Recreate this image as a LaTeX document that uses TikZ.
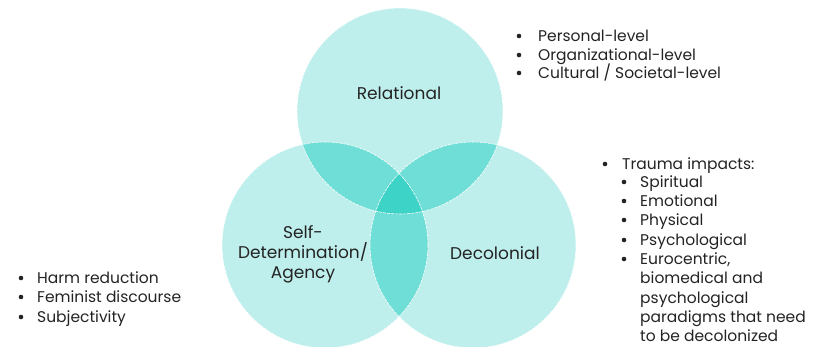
\documentclass[tikz,border=0pt]{standalone}
\usepackage{fontspec}
\setmainfont{Poppins}
\definecolor{vone}{RGB}{191,239,236}
\definecolor{vtwo}{RGB}{110,222,214}
\definecolor{vthree}{RGB}{61,211,199}
\definecolor{ink}{RGB}{35,35,35}
\begin{document}
\begin{tikzpicture}[x=1pt,y=-1pt,
  lbl/.style={text=ink,font=\fontsize{17}{19}\selectfont,align=center,inner sep=0pt},
  itm/.style={text=ink,font=\fontsize{15.5}{17}\selectfont,anchor=mid west,inner sep=0pt,yshift=-3pt},
  dot/.style={circle,fill=ink,inner sep=0pt,minimum size=4.6pt},
  rim/.style={draw=white,line width=0.6pt,dash pattern=on 3pt off 1pt}]
\useasboundingbox (0,0) rectangle (837,346);
% circle centres
\coordinate (ct) at (400,111);
\coordinate (cl) at (325,245);
\coordinate (cr) at (473,245);
\def\rad{103}
% single regions
\fill[vone] (ct) circle[radius=\rad];
\fill[vone] (cl) circle[radius=\rad];
\fill[vone] (cr) circle[radius=\rad];
% pairwise overlaps
\begin{scope}\clip (ct) circle[radius=\rad]; \fill[vtwo] (cl) circle[radius=\rad]; \fill[vtwo] (cr) circle[radius=\rad];\end{scope}
\begin{scope}\clip (cl) circle[radius=\rad]; \fill[vtwo] (cr) circle[radius=\rad];\end{scope}
% triple overlap
\begin{scope}\clip (ct) circle[radius=\rad]; \clip (cl) circle[radius=\rad]; \fill[vthree] (cr) circle[radius=\rad];\end{scope}
% light rims
\draw[rim] (ct) circle[radius=\rad];
\draw[rim] (cl) circle[radius=\rad];
\draw[rim] (cr) circle[radius=\rad];
% labels
\node[lbl] (rel) at (399,93) {Relational};
\node[lbl] (self) at (303,254) {Self-\\[1pt]Determination/\\[1pt]Agency};
\node[lbl] (dec) at (495,253) {Decolonial};
% top-right list
\node[dot] (b1) at (519,36) {}; \node[itm] (t1) at (538,36) {Personal-level};
\node[dot] (b2) at (519,55) {}; \node[itm] (t2) at (538,55) {Organizational-level};
\node[dot] (b3) at (519,73) {}; \node[itm] (t3) at (538,73) {Cultural / Societal-level};
% right list
\node[dot] (r0) at (605,164) {}; \node[itm] (s0) at (622,164) {Trauma impacts:};
\node[dot] (r1) at (624,182) {}; \node[itm] (s1) at (640,182) {Spiritual};
\node[dot] (r2) at (624,201) {}; \node[itm] (s2) at (640,201) {Emotional};
\node[dot] (r3) at (624,220) {}; \node[itm] (s3) at (640,220) {Physical};
\node[dot] (r4) at (624,240) {}; \node[itm] (s4) at (640,240) {Psychological};
\node[dot] (r5) at (624,259) {}; \node[itm] (s5) at (640,259) {Eurocentric,};
\node[itm] (s6) at (640,278) {biomedical and};
\node[itm] (s7) at (640,298) {psychological};
\node[itm] (s8) at (640,317) {paradigms that need};
\node[itm] (s9) at (640,336) {to be decolonized};
% left list
\node[dot] (l1) at (21,278) {}; \node[itm] (u1) at (37,278) {Harm reduction};
\node[dot] (l2) at (21,297) {}; \node[itm] (u2) at (37,297) {Feminist discourse};
\node[dot] (l3) at (21,317) {}; \node[itm] (u3) at (37,317) {Subjectivity};
\end{tikzpicture}
\end{document}
